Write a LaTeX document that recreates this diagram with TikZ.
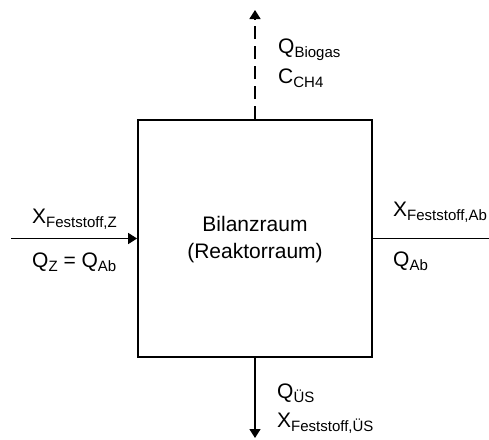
\documentclass[tikz,border=0pt]{standalone}
\usepackage{fontspec}
\setmainfont{Liberation Sans}
\usetikzlibrary{arrows.meta}
\newcommand\lbsub[1]{\raisebox{-0.2em}{\fontsize{15}{15}\selectfont #1}}
\tikzset{
  flow/.style={line width=1.6pt, -{Triangle[length=9pt,width=11pt]}},
  plainline/.style={line width=1.6pt},
  lbl/.style={inner sep=0pt, anchor=base west, font=\fontsize{21}{25}\selectfont},
  boxst/.style={draw, line width=1.8pt, minimum width=234pt, minimum height=237pt, inner sep=0pt}
}
\begin{document}
\begin{tikzpicture}[x=1pt,y=1pt]
\useasboundingbox (0,0) rectangle (489,-439);
\node[boxst] (box) at (255,-238.5) {};
\node[inner sep=0pt, align=center, font=\fontsize{21}{27}\selectfont] (title) at (255,-240) {Bilanzraum\\(Reaktorraum)};
% left inflow
\coordinate (lin) at (11,-238.5);
\draw[flow] (lin) -- (box.west);
\node[lbl] (xz) at (32,-223) {X\lbsub{Feststoff,Z}};
\node[lbl] (qz) at (32,-267) {Q\lbsub{Z} = Q\lbsub{Ab}};
% right outflow
\coordinate (rout) at (489,-238.5);
\draw[plainline] (box.east) -- (rout);
\node[lbl] (xab) at (393,-216) {X\lbsub{Feststoff,Ab}};
\node[lbl] (qab) at (393,-266) {Q\lbsub{Ab}};
% top biogas
\coordinate (top) at (255,-10);
\draw[flow, dash pattern=on 13pt off 7pt] (box.north) -- (top);
\node[lbl] (qbio) at (278,-53) {Q\lbsub{Biogas}};
\node[lbl] (cch4) at (278,-83) {C\lbsub{CH4}};
% bottom
\coordinate (bot) at (255,-438);
\draw[flow] (box.south) -- (bot);
\node[lbl] (qus) at (277,-398) {Q\lbsub{ÜS}};
\node[lbl] (xus) at (277,-427) {X\lbsub{Feststoff,ÜS}};
\end{tikzpicture}
\end{document}
